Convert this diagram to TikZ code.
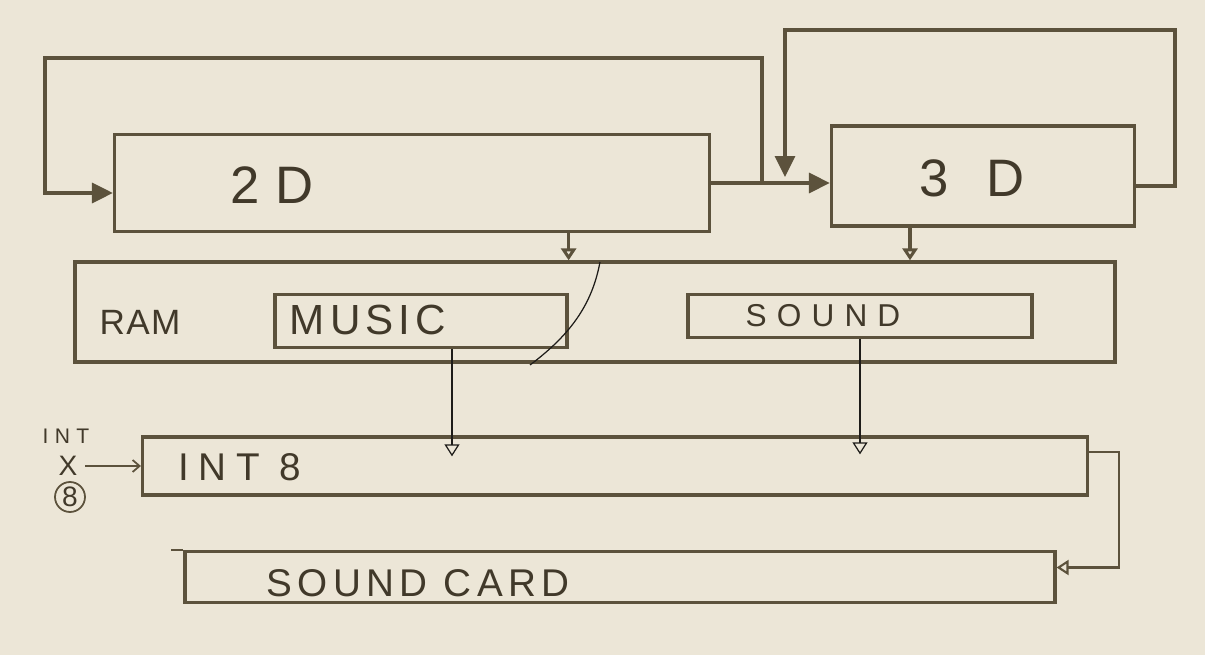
\documentclass[tikz,border=0pt]{standalone}
\usepackage{xcolor}
\usepackage{fontspec}
\usepackage{tikz}
\usetikzlibrary{arrows.meta,positioning}
\newfontfamily\handfont{Liberation Sans}
\definecolor{paper}{RGB}{236,230,215}
\definecolor{pencil}{RGB}{92,82,60}
\definecolor{ink}{RGB}{30,28,25}
\newcommand{\handsize}[2]{\handfont\fontsize{#1}{#1}\selectfont\addfontfeatures{LetterSpace=#2}}
\tikzset{
  blockbox/.style={draw=pencil,line width=1.9pt,rectangle,inner sep=0pt},
  handtext/.style={text=pencil!70!black,inner sep=0pt,anchor=center},
  pencilline/.style={draw=pencil,line width=1.9pt},
  penline/.style={draw=ink,line width=0.7pt},
  fullhead/.style={-{Triangle[length=0.42cm,width=0.4cm]}},
  openhead/.style={-{Triangle[open,length=0.24cm,width=0.3cm]}}
}

\begin{document}
\begin{tikzpicture}[x=0.02cm,y=-0.02cm]
\fill[paper] (0,0) rectangle (1205,655);
\useasboundingbox (0,0) rectangle (1205,655);

\node[blockbox,minimum width=11.9cm,minimum height=1.94cm] (twoD) at (412,183) {};
\node[blockbox,minimum width=6.06cm,minimum height=2cm] (threeD) at (983,176) {};
\node[blockbox,minimum width=20.8cm,minimum height=2cm] (ram) at (595,312) {};
\node[blockbox,minimum width=5.84cm,minimum height=1.06cm] (music) at (421,321) {};
\node[blockbox,minimum width=6.88cm,minimum height=0.86cm] (sound) at (860,316) {};
\node[blockbox,minimum width=18.9cm,minimum height=1.16cm] (int8) at (615,466) {};
\node[blockbox,minimum width=17.4cm,minimum height=1.02cm] (card) at (620,577) {};

\node[handtext,font=\handsize{30}{30}] (twoDtext) at (272,185) {2D};
\node[handtext,font=\handsize{30}{70}] (threeDtext) at (972,178) {3D};
\node[handtext,font=\handsize{20}{4}] (ramtext) at (140,322) {RAM};
\node[handtext,font=\handsize{24}{12}] (musictext) at (368,320) {MUSIC};
\node[handtext,font=\handsize{18}{32}] (soundtext) at (823,316) {SOUND};
\node[handtext,font=\handsize{22}{24}] (int8text) at (240,467) {INT 8};
\node[handtext,font=\handsize{22}{14}] (cardtext) at (418,583) {SOUND CARD};

\node[handtext,font=\handsize{12}{30}] (intsmall) at (66,436) {INT};
\node[handtext,font=\handsize{16}{0}] (intcross) at (68,466) {X};
\node[handtext,draw=pencil,line width=1pt,circle,minimum size=0.6cm,font=\handsize{16}{0}] (inteight) at (70,497) {8};

\coordinate (split) at (762,183);
\coordinate (merge) at (785,177);

\draw[pencilline,fullhead] (twoD.east) -- (twoD.east -| threeD.west);
\draw[pencilline,fullhead] (split) |- (45,58) |- ([yshift=-0.2cm]twoD.west);
\draw[pencilline,fullhead] ([yshift=-0.2cm]threeD.east) -| (1175,30) -| (merge);

\draw[pencilline,openhead] (twoD.south -| music.east) -- (ram.north -| music.east);
\draw[pencilline,openhead] ([xshift=-1.46cm]threeD.south) -- ([xshift=-1.46cm]threeD.south |- ram.north);

\draw[penline] (600,262) .. controls (592,305) and (570,335) .. (530,365);

\draw[penline,openhead] ([xshift=0.62cm]music.south) -- ([xshift=0.62cm,yshift=-0.42cm]music.south |- int8.north);
\draw[penline,openhead] (sound.south) -- ([yshift=-0.38cm]sound.south |- int8.north);
\draw[pencilline,line width=1.2pt,openhead] ([yshift=0.28cm]int8.east) -- ++(0.6cm,0) |- ([yshift=0.19cm]card.east);

\draw[pencilline,line width=1pt,-{Straight Barb[length=0.14cm,width=0.24cm]}] ([xshift=0.15cm]intcross.east) -- (int8.west |- intcross);
\draw[pencilline,line width=1.2pt] (card.north west) -- ++(-0.25cm,0);
\end{tikzpicture}
\end{document}
